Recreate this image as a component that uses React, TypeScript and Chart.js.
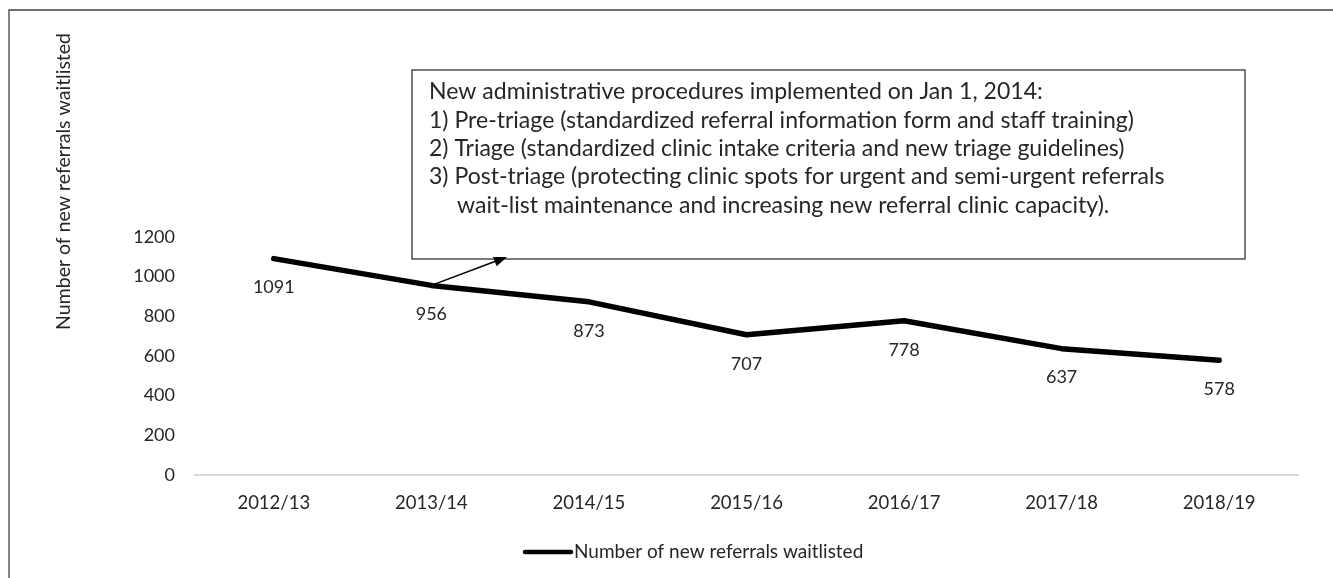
import React, { useEffect, useRef } from "react";
import { Chart, registerables } from "chart.js";

Chart.register(...registerables);

const categories = ["2012/13", "2013/14", "2014/15", "2015/16", "2016/17", "2017/18", "2018/19"];
const referrals = [1091, 956, 873, 707, 778, 637, 578];
const seriesLabel = "Number of new referrals waitlisted";
const yAxisTitle = "Number of new referrals waitlisted";
const annotationLines = [
  "New administrative procedures implemented on Jan 1, 2014:",
  "1) Pre-triage (standardized referral information form and staff training)",
  "2) Triage (standardized clinic intake criteria and new triage guidelines)",
  "3) Post-triage (protecting clinic spots for urgent and semi-urgent referrals",
  "wait-list maintenance and increasing new referral clinic capacity).",
];
const annotationIndent = [false, false, false, false, true];
const arrowFromIndex = 1;

const FONT = "Lato, 'Open Sans', sans-serif";
const TEXT = "#262626";

const overlay = {
  id: "overlay",
  afterDraw(chart: any) {
    const ctx = chart.ctx as CanvasRenderingContext2D;
    const W = chart.width;
    const H = chart.height;
    ctx.save();

    // outer frame (top and left edges)
    ctx.strokeStyle = "#404040";
    ctx.lineWidth = 1.3;
    ctx.beginPath();
    ctx.moveTo(W, 10);
    ctx.lineTo(9, 10);
    ctx.lineTo(9, H);
    ctx.stroke();

    // y axis title
    ctx.save();
    ctx.fillStyle = TEXT;
    ctx.font = `19.5px ${FONT}`;
    ctx.translate(64, 33);
    ctx.rotate(-Math.PI / 2);
    ctx.textAlign = "right";
    ctx.textBaseline = "middle";
    ctx.fillText(yAxisTitle, 0, 0);
    ctx.restore();

    // data labels
    const meta = chart.getDatasetMeta(0);
    ctx.fillStyle = TEXT;
    ctx.font = `18px ${FONT}`;
    ctx.textAlign = "center";
    ctx.textBaseline = "middle";
    meta.data.forEach((pt: any, i: number) => {
      ctx.fillText(String(referrals[i]), pt.x, pt.y + 29);
    });

    // annotation box
    const bx = 412, by = 70, bw = 1245 - 412, bh = 259 - 70;
    ctx.fillStyle = "#ffffff";
    ctx.fillRect(bx, by, bw, bh);
    ctx.strokeStyle = "#333333";
    ctx.lineWidth = 1.3;
    ctx.strokeRect(bx, by, bw, bh);
    ctx.font = `100px ${FONT}`;
    const w1 = ctx.measureText(annotationLines[0]).width;
    const fs = (100 * 614) / w1;
    ctx.font = `${fs}px ${FONT}`;
    ctx.fillStyle = TEXT;
    ctx.textAlign = "left";
    ctx.textBaseline = "middle";
    annotationLines.forEach((line, i) => {
      ctx.fillText(line, annotationIndent[i] ? 457 : 429, 92 + i * 28.3);
    });

    // arrow from data point to box
    const p = meta.data[arrowFromIndex];
    const x0 = p.x, y0 = p.y;
    const x1 = 507, y1 = 257;
    const ang = Math.atan2(y1 - y0, x1 - x0);
    const hl = 13, hw = 5;
    ctx.strokeStyle = "#000";
    ctx.fillStyle = "#000";
    ctx.lineWidth = 1.5;
    ctx.beginPath();
    ctx.moveTo(x0, y0);
    ctx.lineTo(x1 - hl * Math.cos(ang), y1 - hl * Math.sin(ang));
    ctx.stroke();
    ctx.beginPath();
    ctx.moveTo(x1, y1);
    ctx.lineTo(x1 - hl * Math.cos(ang) + hw * Math.sin(ang), y1 - hl * Math.sin(ang) - hw * Math.cos(ang));
    ctx.lineTo(x1 - hl * Math.cos(ang) - hw * Math.sin(ang), y1 - hl * Math.sin(ang) + hw * Math.cos(ang));
    ctx.closePath();
    ctx.fill();

    // legend
    const ly = 552;
    ctx.strokeStyle = "#000";
    ctx.lineWidth = 4.5;
    ctx.lineCap = "round";
    ctx.beginPath();
    ctx.moveTo(525, ly);
    ctx.lineTo(571, ly);
    ctx.stroke();
    ctx.fillStyle = TEXT;
    ctx.font = `19px ${FONT}`;
    ctx.textAlign = "left";
    ctx.textBaseline = "middle";
    ctx.fillText(chart.data.datasets[0].label, 574, ly);

    ctx.restore();
  },
};

export default function App() {
  const ref = useRef<HTMLCanvasElement | null>(null);
  useEffect(() => {
    document.body.style.margin = "0";
    const canvas = ref.current!;
    const chart = new Chart(canvas, {
      type: "line",
      data: {
        labels: categories,
        datasets: [
          {
            label: seriesLabel,
            data: referrals,
            borderColor: "#000000",
            backgroundColor: "#000000",
            borderWidth: 5.5,
            pointRadius: 0,
            tension: 0,
            borderCapStyle: "round",
            borderJoinStyle: "round",
          },
        ],
      },
      options: {
        responsive: false,
        animation: false,
        layout: { padding: { left: 0, right: 35, top: 237, bottom: 0 } },
        plugins: { legend: { display: false }, tooltip: { enabled: false } },
        scales: {
          x: {
            offset: true,
            grid: { display: false, drawTicks: false, offset: true },
            border: { display: true, color: "#d9d9d9", width: 2 },
            ticks: { font: { family: FONT, size: 18.5 }, color: TEXT, padding: 17, maxRotation: 0 },
            afterFit(s: any) {
              s.height = 103;
            },
          },
          y: {
            min: 0,
            max: 1200,
            ticks: {
              stepSize: 200,
              padding: 20,
              font: { family: FONT, size: 18 },
              color: TEXT,
              callback: (v: any) => String(v),
            },
            grid: { display: false, drawTicks: false },
            border: { display: false },
            afterFit(s: any) {
              s.width = 195;
            },
          },
        },
      },
      plugins: [overlay],
    });
    return () => chart.destroy();
  }, []);
  return <canvas ref={ref} width={1333} height={578} style={{ display: "block" }} />;
}
